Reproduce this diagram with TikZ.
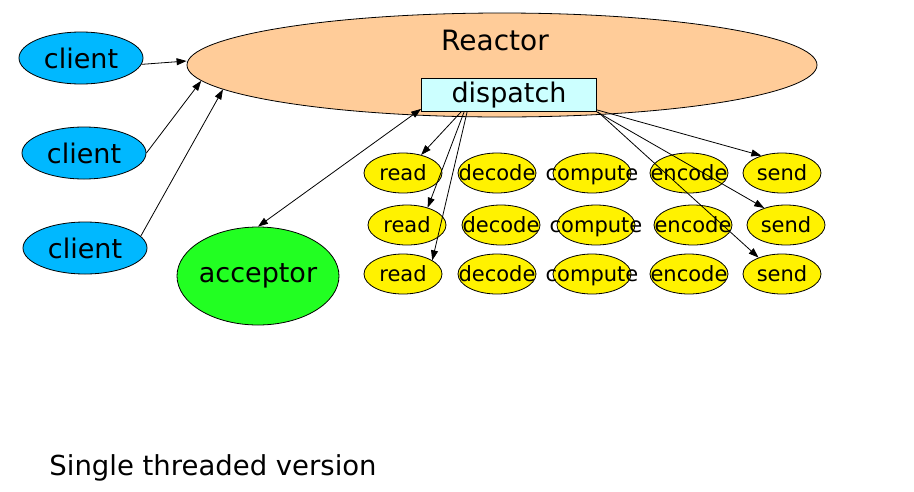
\documentclass[tikz,border=0pt]{standalone}
\usepackage{fontspec}
\setmainfont{DejaVu Sans}
\usepackage{xcolor}
\usepackage{tikz}
\usetikzlibrary{shapes.geometric}
\usetikzlibrary{arrows.meta}
\definecolor{reactorcol}{HTML}{FFCC99}
\definecolor{dispcol}{HTML}{CCFFFF}
\definecolor{clientcol}{HTML}{00B8FF}
\definecolor{acccol}{HTML}{22FF22}
\newcommand{\bigtxt}{\fontsize{27}{32}\selectfont}
\newcommand{\smalltxt}{\fontsize{21}{25}\selectfont}

\begin{document}
\begin{tikzpicture}[x=1pt,y=-1pt,line width=0.8pt,>={Triangle[length=10pt,width=7pt]},
    client/.style={ellipse,draw,fill=clientcol,minimum width=124,minimum height=52,inner sep=0pt,font=\bigtxt},
    task/.style={ellipse,draw,fill=yellow,minimum width=78,minimum height=40,inner sep=0pt,
        label={[font=\smalltxt,text height=16pt,text depth=2pt,inner sep=0pt]center:#1}}]
    \useasboundingbox (0,0) rectangle (914,491);

    % reactor with its dispatcher
    \node[ellipse,draw,fill=reactorcol,minimum width=630,minimum height=104] (rea) at (502,65) {};
    \node[font=\fontsize{28}{33}\selectfont,anchor=base] (reatxt) at (495,50) {Reactor};
    \node[draw,fill=dispcol,minimum width=175,minimum height=33,inner sep=0pt,font=\bigtxt] (dsp) at (509,95) {dispatch};

    % clients and acceptor
    \node[client] (cl1) at (81,58) {client};
    \node[client] (cl2) at (84,153) {client};
    \node[client] (cl3) at (85,248) {client};
    \node[ellipse,draw,fill=acccol,minimum width=162,minimum height=98,inner sep=0pt] (acc) at (258,276) {};
    \node[font=\bigtxt] (acctxt) at (acc) {acceptor};

    % handlers
    \foreach \nm/\txt/\x in {rd/read/403, dc/decode/497, cp/compute/592, ec/encode/689, sn/send/782}
        \foreach \r/\y/\dx in {1/173/0, 2/225/4, 3/274/0}
            \node[task=\txt] (\nm\r) at (\x+\dx,\y) {};

    \draw[->] (cl1.-6) -- ([yshift=4]rea.west);
    \draw[->] (cl2.east) -- (rea.183);
    \draw[->] (cl3.12) -- (rea.185);
    \draw[<->] (acc.north) -- ([yshift=3]dsp.south west);

    \draw[->] ([xshift=40]dsp.south west) -- (rd1.45);
    \draw[->] ([xshift=43]dsp.south west) -- (rd2.40);
    \draw[->] ([xshift=46]dsp.south west) -- (rd3.25);
    \draw[->] ([yshift=2]dsp.south east) -- (sn1.140);
    \draw[->] (dsp.south east) -- (sn2.142);
    \draw[->] ([xshift=1]dsp.south east) -- (sn3.145);

    \node[font=\fontsize{27.5}{33}\selectfont,anchor=base west,inner sep=0pt] (cap) at (49,475) {Single threaded version};
\end{tikzpicture}
\end{document}
